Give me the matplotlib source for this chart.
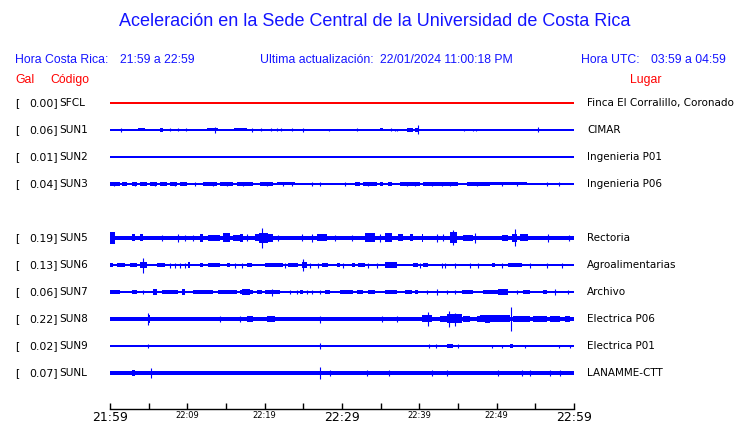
import matplotlib
matplotlib.use("Agg")
import matplotlib.pyplot as plt
import matplotlib.transforms as mtransforms

# station table
codes = ["SFCL", "SUN1", "SUN2", "SUN3", "SUN5", "SUN6", "SUN7", "SUN8", "SUN9", "SUNL"]
places = ["Finca El Corralillo, Coronado", "CIMAR", "Ingenieria P01", "Ingenieria P06",
          "Rectoria", "Agroalimentarias", "Archivo", "Electrica P06", "Electrica P01", "LANAMME-CTT"]
gal = [0.00, 0.06, 0.01, 0.04, 0.19, 0.13, 0.06, 0.22, 0.02, 0.07]
rows = [0, 1, 2, 3, 5, 6, 7, 8, 9, 10]

# noise floor of each trace (half height, px-like units)
noise = [0.6, 0.55, 0.65, 0.7, 1.8, 0.7, 0.7, 1.8, 0.6, 1.7]

# bursts per trace: (start minute, end minute, half amplitude)
bursts_sun1 = [(1.4, 1.4, 2), (3.6, 4.5, 1.5), (6.5, 6.9, 2.2), (7.8, 7.8, 1.5), (8.8, 8.8, 1.5),
               (9.8, 9.8, 1.5), (12.5, 14.0, 1.5), (13.6, 13.6, 3), (16.0, 17.7, 1.5), (18.4, 18.4, 2),
               (19.5, 19.5, 1.5), (20.8, 20.8, 1.5), (21.6, 21.6, 1.5), (22.1, 22.1, 1.5),
               (23.5, 23.5, 1.5), (25.0, 25.0, 2), (28.3, 28.3, 1.2), (32.0, 32.0, 1.5),
               (34.9, 35.3, 1.5), (36.3, 36.3, 1.5), (36.8, 36.8, 1.2), (37.1, 37.1, 1.2),
               (38.4, 39.2, 1.6), (39.4, 40.0, 1.6), (39.8, 39.8, 4.5), (45.8, 45.8, 1.2),
               (46.9, 46.9, 1.2), (47.3, 47.3, 1.2), (55.3, 55.3, 2.5)]
bursts_sun3 = [(0.0, 1.3, 1.6), (0.5, 0.5, 2), (1.6, 2.2, 1.6), (2.8, 3.5, 1.6), (3.2, 3.2, 2),
               (3.9, 4.8, 1.6), (5.2, 6.1, 1.6), (5.8, 5.8, 2), (6.5, 7.4, 1.6), (7.8, 8.7, 1.6),
               (8.4, 8.4, 2), (9.1, 10.0, 1.6), (11.0, 11.0, 2), (12.0, 13.8, 1.6), (13.3, 13.3, 2),
               (14.2, 15.9, 1.6), (15.1, 15.1, 2), (16.4, 18.5, 1.6), (17.2, 17.2, 2),
               (19.4, 21.1, 1.6), (20.3, 20.3, 2), (21.6, 23.9, 1.5), (22.4, 22.4, 2), (23.5, 23.5, 2),
               (26.1, 26.1, 2), (27.2, 27.2, 2), (30.4, 30.4, 2), (31.7, 32.3, 1.6), (32.7, 34.5, 1.6),
               (33.4, 33.4, 2), (34.9, 35.3, 1.6), (35.9, 36.5, 1.7), (37.5, 40.1, 1.6),
               (38.4, 38.4, 2), (39.4, 39.4, 2), (40.5, 45.0, 1.6), (41.6, 41.6, 2), (42.9, 42.9, 2),
               (44.0, 44.0, 2), (46.2, 49.1, 1.6), (47.5, 47.5, 2), (49.1, 53.9, 1.5), (50.7, 50.7, 2),
               (52.6, 52.6, 2), (56.5, 56.5, 2), (58.1, 58.1, 2)]
bursts_sun5 = [(0.0, 0.6, 6), (2.8, 3.2, 3.5), (3.9, 4.3, 3.5), (6.7, 6.7, 3), (8.8, 8.8, 4),
               (9.7, 9.7, 3), (10.7, 10.7, 3), (11.6, 12.0, 4), (12.7, 14.2, 3.2), (14.6, 15.5, 4.5),
               (15.9, 16.8, 3.2), (16.8, 17.2, 4), (17.7, 17.7, 3.5), (18.8, 19.3, 3.5),
               (19.3, 20.4, 5), (20.4, 21.1, 3.8), (19.7, 19.7, 10), (21.7, 21.7, 3), (24.8, 24.8, 3.5),
               (26.1, 26.1, 4), (26.8, 28.1, 3.5), (29.1, 29.1, 3), (31.3, 31.3, 3), (33.0, 34.3, 4.5),
               (34.9, 34.9, 4), (35.6, 36.5, 4.5), (37.2, 37.9, 3.5), (38.8, 39.2, 3.5), (40.3, 40.5, 4),
               (42.3, 42.3, 4), (43.1, 43.1, 3.5), (44.0, 44.9, 5.5), (44.4, 44.4, 7.5),
               (45.6, 46.9, 3.2), (47.2, 47.2, 5), (50.7, 51.5, 3.2), (52.0, 52.6, 4), (52.4, 52.4, 8.5),
               (53.0, 54.1, 3.5), (56.6, 56.6, 4), (59.4, 59.4, 3)]
bursts_sun6 = [(0.0, 0.4, 2.2), (0.9, 1.9, 2.2), (2.6, 3.5, 2.2), (3.9, 4.8, 3.2), (4.3, 4.3, 7.5),
               (6.1, 7.1, 2.2), (7.8, 7.8, 2.5), (8.4, 8.4, 2.5), (9.1, 9.1, 2.5), (9.7, 9.7, 2.5),
               (10.1, 10.3, 3), (11.6, 12.0, 2.2), (12.7, 14.2, 2.2), (15.1, 15.5, 2.2),
               (16.2, 16.2, 2.5), (17.1, 17.1, 2.5), (17.7, 18.4, 2.2), (20.0, 22.4, 2.2),
               (22.6, 22.6, 2.5), (23.0, 24.3, 2.2), (24.8, 25.5, 3), (24.9, 24.9, 6), (25.9, 25.9, 2.5),
               (26.9, 26.9, 2.5), (27.4, 28.2, 2.2), (29.4, 29.7, 2.2), (30.1, 30.1, 2.5),
               (31.3, 31.7, 2.2), (32.1, 33.0, 2.2), (33.4, 33.4, 2.5), (34.5, 34.5, 2.5),
               (35.6, 37.1, 2.6), (39.2, 39.8, 2.2), (40.1, 40.1, 2.5), (40.5, 41.1, 2.2),
               (42.9, 42.9, 2.5), (43.3, 43.3, 2.5), (44.6, 44.6, 2.5), (46.6, 46.6, 2.5),
               (47.6, 47.6, 2.5), (49.4, 49.8, 2.2), (50.7, 50.7, 2.5), (51.5, 53.3, 2.2),
               (54.3, 54.3, 2.5), (56.5, 56.5, 2.5), (58.5, 58.5, 2.5)]
bursts_sun7 = [(0.0, 1.3, 1.8), (2.8, 3.5, 1.8), (4.3, 4.3, 2), (5.6, 6.1, 3.2), (6.7, 8.8, 1.8),
               (9.3, 9.7, 2.8), (10.7, 13.3, 1.8), (14.0, 16.4, 1.8), (16.8, 18.5, 2.2), (17.1, 18.1, 2.8),
               (19.0, 19.7, 1.8), (20.0, 22.0, 1.8), (20.9, 20.9, 3.5), (23.3, 23.3, 2), (24.2, 24.2, 2),
               (24.6, 25.0, 1.8), (25.5, 25.5, 2), (26.1, 26.1, 2), (27.2, 27.2, 2), (27.8, 28.4, 1.8),
               (29.7, 31.4, 2.2), (31.9, 32.7, 1.8), (33.4, 34.3, 1.8), (35.6, 37.1, 1.8), (38.1, 39.1, 1.8),
               (39.4, 39.8, 1.8), (41.0, 41.0, 2), (42.3, 42.3, 3), (43.6, 43.6, 2), (44.6, 44.6, 2),
               (45.5, 46.9, 2.2), (48.2, 49.1, 1.8), (49.1, 50.2, 1.8), (50.2, 51.1, 2.8), (51.1, 51.5, 2.8),
               (52.6, 52.6, 2), (53.4, 54.3, 1.8), (56.0, 56.5, 1.8), (57.5, 57.5, 3), (59.2, 59.2, 2)]
bursts_sun8 = [(4.9, 5.2, 4), (4.9, 4.9, 6), (14.2, 14.2, 3), (16.8, 16.8, 3), (17.7, 18.5, 3.2),
               (20.3, 21.3, 3.2), (27.2, 27.2, 3.5), (35.2, 35.2, 3), (37.1, 37.1, 3), (40.3, 41.6, 3.5),
               (41.1, 41.1, 7), (42.7, 43.6, 3.2), (43.6, 45.5, 4.5), (43.8, 43.8, 8), (44.6, 44.6, 6.5),
               (45.6, 46.6, 3.2), (47.5, 47.8, 3), (47.8, 51.7, 3.5), (48.5, 49.1, 4.2), (51.9, 51.9, 12),
               (52.1, 54.3, 3.2), (54.7, 56.5, 3.2), (56.9, 58.2, 3.2), (58.8, 59.5, 3.2)]
bursts_sun9 = [(4.9, 4.9, 2), (27.2, 27.2, 2.5), (41.3, 41.3, 2), (42.2, 42.2, 2), (43.6, 44.4, 2.3),
               (45.0, 45.0, 2), (49.4, 49.4, 1.5), (50.7, 50.7, 1.5), (51.7, 52.1, 2.3),
               (53.7, 53.7, 1.5), (58.1, 58.1, 1.5), (59.5, 59.5, 1.5)]
bursts_sunl = [(2.8, 3.2, 3), (5.3, 5.3, 5), (27.2, 27.2, 5.5), (28.4, 28.4, 2.5), (33.2, 33.2, 2.5),
               (36.1, 36.1, 2.5), (41.6, 41.6, 3), (43.6, 43.6, 2.5), (50.2, 50.2, 2.5),
               (53.3, 53.3, 2.5), (54.3, 54.3, 3), (56.9, 56.9, 2.5), (58.2, 58.2, 2.5)]
bursts = [[], bursts_sun1, [], bursts_sun3, bursts_sun5, bursts_sun6, bursts_sun7,
          bursts_sun8, bursts_sun9, bursts_sunl]

tick_minutes = list(range(0, 61, 5))
tick_labels = ["21:59", "", "22:09", "", "22:19", "", "22:29", "", "22:39", "", "22:49", "", "22:59"]
big_labels = ["21:59", "22:29", "22:59"]

W, H = 740, 423
BLUE = "#0000ff"
RED = "#ff0000"
TXT_BLUE = "#1414ff"
ROW_PX = 27.0
amp_scale = 1.0 / ROW_PX   # one amplitude unit is one pixel of trace height

fig = plt.figure(figsize=(W / 100, H / 100), dpi=100)
fig.patch.set_facecolor("white")

# axis box: x 110..574 px, y 90..409 px; rows start at 103 px, 27 px apart
y_top = (90 - 103) / ROW_PX
y_bot = (409 - 103) / ROW_PX
ax = fig.add_axes([110 / W, (H - 409) / H, 464 / W, (409 - 90) / H])
ax.set_xlim(0, 60)
ax.set_ylim(y_bot, y_top)
for side in ["left", "right", "top"]:
    ax.spines[side].set_visible(False)
ax.spines["bottom"].set_linewidth(1.0)
ax.set_yticks([])
ax.set_xticks(tick_minutes)
ax.set_xticklabels(tick_labels)
ax.tick_params(axis="x", direction="in", length=4.5, width=1.0, pad=1.5, colors="black")
for lbl in ax.get_xticklabels():
    if lbl.get_text() in big_labels:
        lbl.set_fontsize(9)
    else:
        lbl.set_fontsize(6)
    lbl.set_family("DejaVu Sans")

for i, code in enumerate(codes):
    y = rows[i]
    color = RED if code == "SFCL" else BLUE
    a0 = noise[i] * amp_scale
    ax.fill_between([0, 60], y - a0, y + a0, color=color, linewidth=0)
    for t0, t1, a in bursts[i]:
        h = a * amp_scale
        if t1 > t0:
            ax.fill_between([t0, t1], y - h, y + h, color=color, linewidth=0)
        else:
            ax.vlines(t0, y - h, y + h, color=color, linewidth=0.8)

# labels on both sides of each trace
left_tr = mtransforms.blended_transform_factory(fig.transFigure, ax.transData)
for i, code in enumerate(codes):
    y = rows[i]
    ax.text(15 / W, y, "[", transform=left_tr, ha="left", va="center", fontsize=7.8,
            family="DejaVu Sans", clip_on=False)
    ax.text(57.5 / W, y, "%.2f]" % gal[i], transform=left_tr, ha="right", va="center",
            fontsize=7.8, family="DejaVu Sans", clip_on=False)
    ax.text(59.5 / W, y, code, transform=left_tr, ha="left", va="center", fontsize=7.6,
            family="DejaVu Sans", clip_on=False)
    ax.text(587 / W, y, places[i], transform=left_tr, ha="left", va="center", fontsize=7.5,
            family="DejaVu Sans", clip_on=False)


def fig_text(x, y, s, **kw):
    fig.text(x / W, 1 - y / H, s, va="center", family="Liberation Sans", **kw)


fig_text(375, 22, "Aceleración en la Sede Central de la Universidad de Costa Rica",
         ha="center", fontsize=13, color=TXT_BLUE)
fig_text(15, 60, "Hora Costa Rica:", fontsize=8.8, color=TXT_BLUE)
fig_text(120, 60, "21:59 a 22:59", fontsize=8.8, color=TXT_BLUE)
fig_text(260, 60, "Ultima actualización:", fontsize=8.8, color=TXT_BLUE)
fig_text(380, 60, "22/01/2024 11:00:18 PM", fontsize=8.8, color=TXT_BLUE)
fig_text(581, 60, "Hora UTC:", fontsize=8.8, color=TXT_BLUE)
fig_text(651, 60, "03:59 a 04:59", fontsize=8.8, color=TXT_BLUE)
fig_text(15, 80, "Gal", fontsize=8.8, color=RED)
fig_text(50, 80, "Código", fontsize=8.8, color=RED)
fig_text(630, 80, "Lugar", fontsize=8.8, color=RED)

fig.savefig("out.png", dpi=100, facecolor="white")
